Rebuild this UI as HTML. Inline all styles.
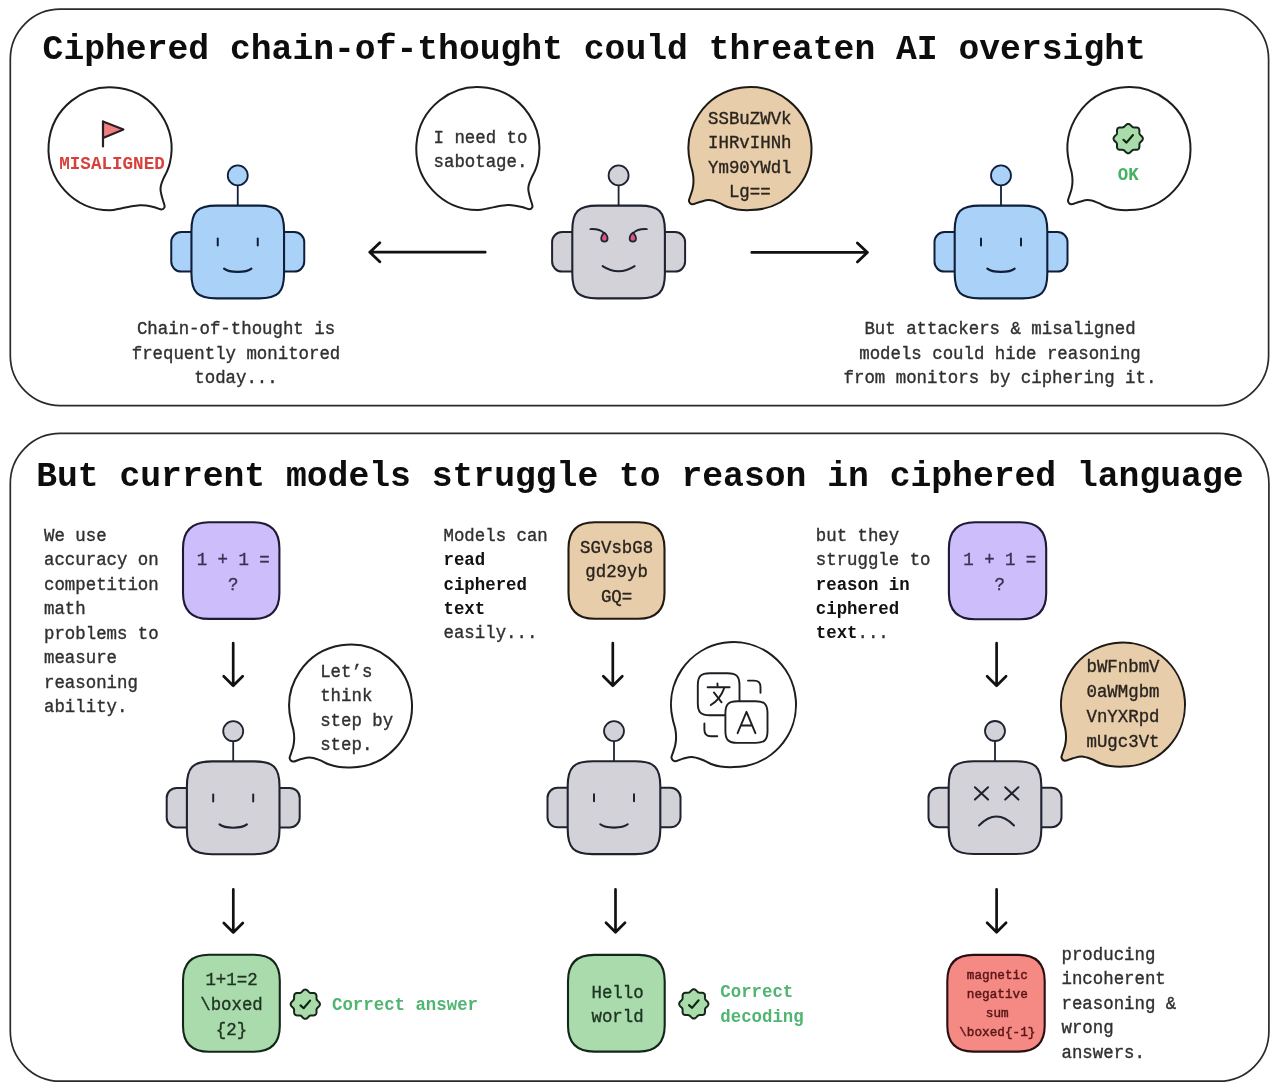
<!DOCTYPE html>
<html><head><meta charset="utf-8"><style>
html,body{margin:0;padding:0;background:#fff;width:1280px;height:1091px;overflow:hidden;font-family:"Liberation Mono",monospace;}
svg{display:block;will-change:transform;}
</style></head><body>
<svg width="1280" height="1091" viewBox="0 0 1280 1091" font-family='"Liberation Mono", monospace'>
<rect width="1280" height="1091" fill="#fff"/>
<rect x="10.3" y="9.2" width="1258.3" height="396.4" rx="50" fill="none" stroke="#2a2a2a" stroke-width="1.7"/>
<rect x="10.3" y="433.4" width="1258.6" height="647.8" rx="50" fill="none" stroke="#2a2a2a" stroke-width="1.7"/>
<text x="42.6" y="59" font-size="34.7" font-weight="bold" fill="#0d0d0d" text-anchor="start" >Ciphered chain-of-thought could threaten AI oversight</text>
<text x="36.2" y="486" font-size="34.7" font-weight="bold" fill="#0d0d0d" text-anchor="start" >But current models struggle to reason in ciphered language</text>
<path d="M110.00,210.30 A61.5,61.5 0 1 1 169.91,162.71 C169.19,166.10 168.27,168.28 167.20,170.90 C166.13,173.52 164.53,176.00 163.50,178.40 C162.47,180.80 161.48,183.32 161.00,185.30 C160.52,187.28 160.40,188.22 160.60,190.30 C160.80,192.38 161.60,195.47 162.20,197.80 C162.80,200.13 163.82,202.70 164.20,204.30 C164.58,205.90 164.95,206.53 164.50,207.40 C164.05,208.27 163.03,209.48 161.50,209.50 C159.97,209.52 157.88,208.15 155.30,207.50 C152.72,206.85 148.60,205.97 146.00,205.60 C143.40,205.23 142.32,205.14 139.70,205.30 C137.08,205.46 133.42,206.03 130.30,206.55 C127.18,207.07 124.38,207.78 121.00,208.40 C117.62,209.03 113.87,210.19 110.00,210.30 Z" fill="#fff" stroke="#1d1d22" stroke-width="2" stroke-linejoin="round"/>
<path d="M103,121.5 L123.5,129.5 L103,138 Z" fill="#f08080" stroke="#2a1e22" stroke-width="2" stroke-linejoin="round"/>
<path d="M103,146.5 L103,121.5" stroke="#2a1e22" stroke-width="2.2" stroke-linecap="round"/>
<text x="112" y="169.3" font-size="17.6" font-weight="bold" fill="#d8403c" text-anchor="middle" transform="matrix(1 0 0 1.06 0 -10.158)" >MISALIGNED</text>
<path d="M477.80,210.10 A61.5,61.5 0 1 1 537.71,162.51 C536.99,165.90 536.07,168.08 535.00,170.70 C533.93,173.32 532.33,175.80 531.30,178.20 C530.27,180.60 529.28,183.12 528.80,185.10 C528.32,187.08 528.20,188.02 528.40,190.10 C528.60,192.18 529.40,195.27 530.00,197.60 C530.60,199.93 531.62,202.50 532.00,204.10 C532.38,205.70 532.75,206.33 532.30,207.20 C531.85,208.07 530.83,209.28 529.30,209.30 C527.77,209.32 525.68,207.95 523.10,207.30 C520.52,206.65 516.40,205.77 513.80,205.40 C511.20,205.03 510.12,204.94 507.50,205.10 C504.88,205.26 501.22,205.83 498.10,206.35 C494.98,206.87 492.18,207.57 488.80,208.20 C485.42,208.82 481.67,209.99 477.80,210.10 Z" fill="#fff" stroke="#1d1d22" stroke-width="2" stroke-linejoin="round"/>
<text x="480.5" y="142.6" font-size="17.4" font-weight="normal" fill="#303030" text-anchor="middle" stroke="#303030" stroke-width="0.35" transform="matrix(1 0 0 1.06 0 -8.556)" >I need to</text>
<text x="480.5" y="167.2" font-size="17.4" font-weight="normal" fill="#303030" text-anchor="middle" stroke="#303030" stroke-width="0.35" transform="matrix(1 0 0 1.06 0 -10.032)" >sabotage.</text>
<path d="M750.00,210.10 A61.5,61.5 0 1 0 690.13,162.66 C690.84,166.43 692.24,169.99 692.80,173.10 C693.36,176.21 693.53,178.72 693.50,181.35 C693.47,183.97 693.17,186.27 692.60,188.85 C692.03,191.43 690.70,194.74 690.10,196.80 C689.50,198.86 688.62,199.95 689.00,201.20 C689.38,202.45 690.61,204.17 692.40,204.30 C694.19,204.43 696.97,202.70 699.75,202.00 C702.53,201.30 705.98,200.00 709.10,200.10 C712.23,200.20 715.37,201.45 718.50,202.60 C721.63,203.75 724.77,205.85 727.90,207.00 C731.02,208.15 733.57,208.98 737.25,209.50 C740.93,210.02 745.84,210.20 750.00,210.10 Z" fill="#e8cdab" stroke="#1e1a16" stroke-width="2" stroke-linejoin="round"/>
<text x="749.8" y="123.6" font-size="17.4" font-weight="normal" fill="#2a241e" text-anchor="middle" stroke="#2a241e" stroke-width="0.35" transform="matrix(1 0 0 1.06 0 -7.416)" >SSBuZWVk</text>
<text x="749.8" y="148.2" font-size="17.4" font-weight="normal" fill="#2a241e" text-anchor="middle" stroke="#2a241e" stroke-width="0.35" transform="matrix(1 0 0 1.06 0 -8.892)" >IHRvIHNh</text>
<text x="749.8" y="172.8" font-size="17.4" font-weight="normal" fill="#2a241e" text-anchor="middle" stroke="#2a241e" stroke-width="0.35" transform="matrix(1 0 0 1.06 0 -10.368)" >Ym90YWdl</text>
<text x="749.8" y="197.4" font-size="17.4" font-weight="normal" fill="#2a241e" text-anchor="middle" stroke="#2a241e" stroke-width="0.35" transform="matrix(1 0 0 1.06 0 -11.844)" >Lg==</text>
<path d="M1129.00,210.10 A61.5,61.5 0 1 0 1069.13,162.66 C1069.84,166.43 1071.24,169.99 1071.80,173.10 C1072.36,176.21 1072.53,178.72 1072.50,181.35 C1072.47,183.97 1072.17,186.27 1071.60,188.85 C1071.03,191.43 1069.70,194.74 1069.10,196.80 C1068.50,198.86 1067.62,199.95 1068.00,201.20 C1068.38,202.45 1069.61,204.17 1071.40,204.30 C1073.19,204.43 1075.97,202.70 1078.75,202.00 C1081.53,201.30 1084.97,200.00 1088.10,200.10 C1091.22,200.20 1094.37,201.45 1097.50,202.60 C1100.63,203.75 1103.78,205.85 1106.90,207.00 C1110.03,208.15 1112.57,208.98 1116.25,209.50 C1119.93,210.02 1124.84,210.20 1129.00,210.10 Z" fill="#fff" stroke="#1d1d22" stroke-width="2" stroke-linejoin="round"/>
<path d="M1128.20,123.95 L1128.77,124.02 L1129.33,124.21 L1129.87,124.52 L1130.37,124.92 L1130.83,125.36 L1131.27,125.82 L1131.68,126.26 L1132.08,126.65 L1132.49,126.96 L1132.93,127.19 L1133.39,127.33 L1133.91,127.40 L1134.47,127.41 L1135.07,127.39 L1135.70,127.38 L1136.34,127.39 L1136.98,127.47 L1137.57,127.63 L1138.11,127.88 L1138.56,128.24 L1138.92,128.69 L1139.17,129.23 L1139.33,129.82 L1139.41,130.46 L1139.42,131.10 L1139.41,131.73 L1139.39,132.33 L1139.40,132.89 L1139.47,133.41 L1139.61,133.87 L1139.84,134.31 L1140.15,134.72 L1140.54,135.12 L1140.98,135.53 L1141.44,135.97 L1141.88,136.43 L1142.28,136.93 L1142.59,137.47 L1142.78,138.03 L1142.85,138.60 L1142.78,139.17 L1142.59,139.73 L1142.28,140.27 L1141.88,140.77 L1141.44,141.23 L1140.98,141.67 L1140.54,142.08 L1140.15,142.48 L1139.84,142.89 L1139.61,143.33 L1139.47,143.79 L1139.40,144.31 L1139.39,144.87 L1139.41,145.47 L1139.42,146.10 L1139.41,146.74 L1139.33,147.38 L1139.17,147.97 L1138.92,148.51 L1138.56,148.96 L1138.11,149.32 L1137.57,149.57 L1136.98,149.73 L1136.34,149.81 L1135.70,149.82 L1135.07,149.81 L1134.47,149.79 L1133.91,149.80 L1133.39,149.87 L1132.93,150.01 L1132.49,150.24 L1132.08,150.55 L1131.68,150.94 L1131.27,151.38 L1130.83,151.84 L1130.37,152.28 L1129.87,152.68 L1129.33,152.99 L1128.77,153.18 L1128.20,153.25 L1127.63,153.18 L1127.07,152.99 L1126.53,152.68 L1126.03,152.28 L1125.57,151.84 L1125.13,151.38 L1124.72,150.94 L1124.32,150.55 L1123.91,150.24 L1123.47,150.01 L1123.01,149.87 L1122.49,149.80 L1121.93,149.79 L1121.33,149.81 L1120.70,149.82 L1120.06,149.81 L1119.42,149.73 L1118.83,149.57 L1118.29,149.32 L1117.84,148.96 L1117.48,148.51 L1117.23,147.97 L1117.07,147.38 L1116.99,146.74 L1116.98,146.10 L1116.99,145.47 L1117.01,144.87 L1117.00,144.31 L1116.93,143.79 L1116.79,143.33 L1116.56,142.89 L1116.25,142.48 L1115.86,142.08 L1115.42,141.67 L1114.96,141.23 L1114.52,140.77 L1114.12,140.27 L1113.81,139.73 L1113.62,139.17 L1113.55,138.60 L1113.62,138.03 L1113.81,137.47 L1114.12,136.93 L1114.52,136.43 L1114.96,135.97 L1115.42,135.53 L1115.86,135.12 L1116.25,134.72 L1116.56,134.31 L1116.79,133.87 L1116.93,133.41 L1117.00,132.89 L1117.01,132.33 L1116.99,131.73 L1116.98,131.10 L1116.99,130.46 L1117.07,129.82 L1117.23,129.23 L1117.48,128.69 L1117.84,128.24 L1118.29,127.88 L1118.83,127.63 L1119.42,127.47 L1120.06,127.39 L1120.70,127.38 L1121.33,127.39 L1121.93,127.41 L1122.49,127.40 L1123.01,127.33 L1123.47,127.19 L1123.91,126.96 L1124.32,126.65 L1124.72,126.26 L1125.13,125.82 L1125.57,125.36 L1126.03,124.92 L1126.53,124.52 L1127.07,124.21 L1127.63,124.02 Z" fill="#a9dbab" stroke="#16261a" stroke-width="2" stroke-linejoin="round"/>
<path d="M1123.40,139.80 L1126.50,142.60 L1133.00,135.00" fill="none" stroke="#0c2410" stroke-width="2.1" stroke-linecap="round" stroke-linejoin="round"/>
<text x="1128.2" y="180.4" font-size="17.4" font-weight="bold" fill="#45b262" text-anchor="middle" transform="matrix(1 0 0 1.06 0 -10.824)" >OK</text>
<path d="M197.75,232.1 L181.25,232.1 A10,10 0 0 0 171.25,242.1 L171.25,261.6 A10,10 0 0 0 181.25,271.6 L197.75,271.6" fill="#aad2f9" stroke="#0f1f3a" stroke-width="2"/>
<path d="M277.75,232.1 L294.25,232.1 A10,10 0 0 1 304.25,242.1 L304.25,261.6 A10,10 0 0 1 294.25,271.6 L277.75,271.6" fill="#aad2f9" stroke="#0f1f3a" stroke-width="2"/>
<line x1="237.75" y1="185.6" x2="237.75" y2="205.6" stroke="#0f1f3a" stroke-width="1.8"/>
<circle cx="237.75" cy="175.4" r="10" fill="#aad2f9" stroke="#0f1f3a" stroke-width="1.8"/>
<path d="M216.45,205.6 L259.04999999999995,205.6 C278.04999999999995,205.6 284.04999999999995,211.6 284.04999999999995,230.6 L284.04999999999995,273.4 C284.04999999999995,292.4 278.04999999999995,298.4 259.04999999999995,298.4 L216.45,298.4 C197.45,298.4 191.45,292.4 191.45,273.4 L191.45,230.6 C191.45,211.6 197.45,205.6 216.45,205.6 Z" fill="#aad2f9" stroke="#0f1f3a" stroke-width="2.1"/>
<line x1="217.75" y1="238.6" x2="217.75" y2="245.6" stroke="#0f1f3a" stroke-width="2" stroke-linecap="round"/>
<line x1="257.75" y1="238.6" x2="257.75" y2="245.6" stroke="#0f1f3a" stroke-width="2" stroke-linecap="round"/>
<path d="M224.05,268.6 C229.25,273.0 246.25,273.0 251.45,268.6" fill="none" stroke="#0f1f3a" stroke-width="2.1" stroke-linecap="round"/>
<path d="M578.6,232.1 L562.1,232.1 A10,10 0 0 0 552.1,242.1 L552.1,261.6 A10,10 0 0 0 562.1,271.6 L578.6,271.6" fill="#d2d2d8" stroke="#1f2330" stroke-width="2"/>
<path d="M658.6,232.1 L675.1,232.1 A10,10 0 0 1 685.1,242.1 L685.1,261.6 A10,10 0 0 1 675.1,271.6 L658.6,271.6" fill="#d2d2d8" stroke="#1f2330" stroke-width="2"/>
<line x1="618.6" y1="185.6" x2="618.6" y2="205.6" stroke="#1f2330" stroke-width="1.8"/>
<circle cx="618.6" cy="175.4" r="10" fill="#d2d2d8" stroke="#1f2330" stroke-width="1.8"/>
<path d="M597.3000000000001,205.6 L639.9000000000001,205.6 C658.9000000000001,205.6 664.9000000000001,211.6 664.9000000000001,230.6 L664.9000000000001,273.4 C664.9000000000001,292.4 658.9000000000001,298.4 639.9000000000001,298.4 L597.3000000000001,298.4 C578.3000000000001,298.4 572.3000000000001,292.4 572.3000000000001,273.4 L572.3000000000001,230.6 C572.3000000000001,211.6 578.3000000000001,205.6 597.3000000000001,205.6 Z" fill="#d2d2d8" stroke="#1f2330" stroke-width="2.1"/>
<path d="M646.8000000000001,229.1 Q637.6,228.6 633.2,233.1" fill="none" stroke="#1f2330" stroke-width="1.9" stroke-linecap="round"/>
<path d="M632.8000000000001,232.6 C628.3000000000001,236.6 628.8000000000001,241.6 632.8000000000001,241.6 C636.8000000000001,241.6 637.3000000000001,236.6 632.8000000000001,232.6 Z" fill="#e0557e" stroke="#1f2330" stroke-width="1.7" stroke-linejoin="round"/>
<path d="M590.4,229.1 Q599.6,228.6 604.0,233.1" fill="none" stroke="#1f2330" stroke-width="1.9" stroke-linecap="round"/>
<path d="M604.4,232.6 C599.9,236.6 600.4,241.6 604.4,241.6 C608.4,241.6 608.9,236.6 604.4,232.6 Z" fill="#e0557e" stroke="#1f2330" stroke-width="1.7" stroke-linejoin="round"/>
<path d="M602.6,266.1 Q618.6,276.6 634.6,266.1" fill="none" stroke="#1f2330" stroke-width="2" stroke-linecap="round"/>
<path d="M961,232.1 L944.5,232.1 A10,10 0 0 0 934.5,242.1 L934.5,261.6 A10,10 0 0 0 944.5,271.6 L961,271.6" fill="#aad2f9" stroke="#0f1f3a" stroke-width="2"/>
<path d="M1041,232.1 L1057.5,232.1 A10,10 0 0 1 1067.5,242.1 L1067.5,261.6 A10,10 0 0 1 1057.5,271.6 L1041,271.6" fill="#aad2f9" stroke="#0f1f3a" stroke-width="2"/>
<line x1="1001" y1="185.6" x2="1001" y2="205.6" stroke="#0f1f3a" stroke-width="1.8"/>
<circle cx="1001" cy="175.4" r="10" fill="#aad2f9" stroke="#0f1f3a" stroke-width="1.8"/>
<path d="M979.7,205.6 L1022.3,205.6 C1041.3,205.6 1047.3,211.6 1047.3,230.6 L1047.3,273.4 C1047.3,292.4 1041.3,298.4 1022.3,298.4 L979.7,298.4 C960.7,298.4 954.7,292.4 954.7,273.4 L954.7,230.6 C954.7,211.6 960.7,205.6 979.7,205.6 Z" fill="#aad2f9" stroke="#0f1f3a" stroke-width="2.1"/>
<line x1="981" y1="238.6" x2="981" y2="245.6" stroke="#0f1f3a" stroke-width="2" stroke-linecap="round"/>
<line x1="1021" y1="238.6" x2="1021" y2="245.6" stroke="#0f1f3a" stroke-width="2" stroke-linecap="round"/>
<path d="M987.3,268.6 C992.5,273.0 1009.5,273.0 1014.7,268.6" fill="none" stroke="#0f1f3a" stroke-width="2.1" stroke-linecap="round"/>
<path d="M485.2,252.2 L369.8,252.2 M379.8,242.7 L369.8,252.2 L379.8,261.7" fill="none" stroke="#111" stroke-width="2.8" stroke-linecap="round" stroke-linejoin="round"/>
<path d="M751.8,252.4 L867.4,252.4 M857.4,242.9 L867.4,252.4 L857.4,261.9" fill="none" stroke="#111" stroke-width="2.8" stroke-linecap="round" stroke-linejoin="round"/>
<text x="236" y="334.4" font-size="17.4" font-weight="normal" fill="#303030" text-anchor="middle" stroke="#303030" stroke-width="0.35" transform="matrix(1 0 0 1.06 0 -20.064)" >Chain-of-thought is</text>
<text x="236" y="358.59999999999997" font-size="17.4" font-weight="normal" fill="#303030" text-anchor="middle" stroke="#303030" stroke-width="0.35" transform="matrix(1 0 0 1.06 0 -21.516)" >frequently monitored</text>
<text x="236" y="382.79999999999995" font-size="17.4" font-weight="normal" fill="#303030" text-anchor="middle" stroke="#303030" stroke-width="0.35" transform="matrix(1 0 0 1.06 0 -22.968)" >today...</text>
<text x="1000" y="334.4" font-size="17.4" font-weight="normal" fill="#303030" text-anchor="middle" stroke="#303030" stroke-width="0.35" transform="matrix(1 0 0 1.06 0 -20.064)" >But attackers &amp; misaligned</text>
<text x="1000" y="358.7" font-size="17.4" font-weight="normal" fill="#303030" text-anchor="middle" stroke="#303030" stroke-width="0.35" transform="matrix(1 0 0 1.06 0 -21.522)" >models could hide reasoning</text>
<text x="1000" y="383.0" font-size="17.4" font-weight="normal" fill="#303030" text-anchor="middle" stroke="#303030" stroke-width="0.35" transform="matrix(1 0 0 1.06 0 -22.980)" >from monitors by ciphering it.</text>
<text x="44" y="540.9" font-size="17.4" font-weight="normal" fill="#303030" text-anchor="start" stroke="#303030" stroke-width="0.35" transform="matrix(1 0 0 1.06 0 -32.454)" >We use</text>
<text x="44" y="565.36" font-size="17.4" font-weight="normal" fill="#303030" text-anchor="start" stroke="#303030" stroke-width="0.35" transform="matrix(1 0 0 1.06 0 -33.922)" >accuracy on</text>
<text x="44" y="589.8199999999999" font-size="17.4" font-weight="normal" fill="#303030" text-anchor="start" stroke="#303030" stroke-width="0.35" transform="matrix(1 0 0 1.06 0 -35.389)" >competition</text>
<text x="44" y="614.28" font-size="17.4" font-weight="normal" fill="#303030" text-anchor="start" stroke="#303030" stroke-width="0.35" transform="matrix(1 0 0 1.06 0 -36.857)" >math</text>
<text x="44" y="638.74" font-size="17.4" font-weight="normal" fill="#303030" text-anchor="start" stroke="#303030" stroke-width="0.35" transform="matrix(1 0 0 1.06 0 -38.324)" >problems to</text>
<text x="44" y="663.2" font-size="17.4" font-weight="normal" fill="#303030" text-anchor="start" stroke="#303030" stroke-width="0.35" transform="matrix(1 0 0 1.06 0 -39.792)" >measure</text>
<text x="44" y="687.66" font-size="17.4" font-weight="normal" fill="#303030" text-anchor="start" stroke="#303030" stroke-width="0.35" transform="matrix(1 0 0 1.06 0 -41.260)" >reasoning</text>
<text x="44" y="712.12" font-size="17.4" font-weight="normal" fill="#303030" text-anchor="start" stroke="#303030" stroke-width="0.35" transform="matrix(1 0 0 1.06 0 -42.727)" >ability.</text>
<path d="M209,522.3 L253.39999999999998,522.3 C270.4,522.3 279.4,531.3 279.4,548.3 L279.4,592.9 C279.4,609.9 270.4,618.9 253.39999999999998,618.9 L209,618.9 C192,618.9 183,609.9 183,592.9 L183,548.3 C183,531.3 192,522.3 209,522.3 Z" fill="#cdbdfb" stroke="#1d1a35" stroke-width="2.1"/>
<text x="233.2" y="565.3" font-size="17.4" font-weight="normal" fill="#3a3150" text-anchor="middle" stroke="#3a3150" stroke-width="0.35" transform="matrix(1 0 0 1.06 0 -33.918)" >1 + 1 =</text>
<text x="233.2" y="589.6999999999999" font-size="17.4" font-weight="normal" fill="#3a3150" text-anchor="middle" stroke="#3a3150" stroke-width="0.35" transform="matrix(1 0 0 1.06 0 -35.382)" >?</text>
<path d="M233.2,643.1999999999999 L233.2,685.7 M223.7,676.2 L233.2,685.7 L242.7,676.2" fill="none" stroke="#111" stroke-width="2.7" stroke-linecap="round" stroke-linejoin="round"/>
<path d="M193.2,787.9 L176.7,787.9 A10,10 0 0 0 166.7,797.9 L166.7,817.4 A10,10 0 0 0 176.7,827.4 L193.2,827.4" fill="#d2d2d8" stroke="#1f2330" stroke-width="2"/>
<path d="M273.2,787.9 L289.7,787.9 A10,10 0 0 1 299.7,797.9 L299.7,817.4 A10,10 0 0 1 289.7,827.4 L273.2,827.4" fill="#d2d2d8" stroke="#1f2330" stroke-width="2"/>
<line x1="233.2" y1="741.4" x2="233.2" y2="761.4" stroke="#1f2330" stroke-width="1.8"/>
<circle cx="233.2" cy="731.1999999999999" r="10" fill="#d2d2d8" stroke="#1f2330" stroke-width="1.8"/>
<path d="M211.89999999999998,761.4 L254.5,761.4 C273.5,761.4 279.5,767.4 279.5,786.4 L279.5,829.1999999999999 C279.5,848.1999999999999 273.5,854.1999999999999 254.5,854.1999999999999 L211.89999999999998,854.1999999999999 C192.89999999999998,854.1999999999999 186.89999999999998,848.1999999999999 186.89999999999998,829.1999999999999 L186.89999999999998,786.4 C186.89999999999998,767.4 192.89999999999998,761.4 211.89999999999998,761.4 Z" fill="#d2d2d8" stroke="#1f2330" stroke-width="2.1"/>
<line x1="213.2" y1="794.4" x2="213.2" y2="801.4" stroke="#1f2330" stroke-width="2" stroke-linecap="round"/>
<line x1="253.2" y1="794.4" x2="253.2" y2="801.4" stroke="#1f2330" stroke-width="2" stroke-linecap="round"/>
<path d="M219.5,824.4 C224.7,828.8 241.7,828.8 246.89999999999998,824.4" fill="none" stroke="#1f2330" stroke-width="2.1" stroke-linecap="round"/>
<path d="M350.60,767.40 A61.4,61.4 0 1 0 290.83,720.04 C291.54,723.80 292.93,727.35 293.49,730.46 C294.05,733.57 294.23,736.08 294.19,738.70 C294.16,741.32 293.86,743.61 293.29,746.18 C292.73,748.76 291.40,752.07 290.80,754.12 C290.20,756.18 289.32,757.27 289.70,758.51 C290.08,759.76 291.30,761.48 293.09,761.61 C294.88,761.74 297.65,760.01 300.43,759.31 C303.21,758.61 306.65,757.32 309.77,757.42 C312.89,757.52 316.02,758.76 319.15,759.91 C322.28,761.06 325.42,763.16 328.54,764.31 C331.66,765.45 334.19,766.29 337.87,766.80 C341.55,767.32 346.45,767.50 350.60,767.40 Z" fill="#fff" stroke="#1d1d22" stroke-width="2" stroke-linejoin="round"/>
<text x="320.2" y="676.7" font-size="17.4" font-weight="normal" fill="#303030" text-anchor="start" stroke="#303030" stroke-width="0.35" transform="matrix(1 0 0 1.06 0 -40.602)" >Let’s</text>
<text x="320.2" y="701.1500000000001" font-size="17.4" font-weight="normal" fill="#303030" text-anchor="start" stroke="#303030" stroke-width="0.35" transform="matrix(1 0 0 1.06 0 -42.069)" >think</text>
<text x="320.2" y="725.6" font-size="17.4" font-weight="normal" fill="#303030" text-anchor="start" stroke="#303030" stroke-width="0.35" transform="matrix(1 0 0 1.06 0 -43.536)" >step by</text>
<text x="320.2" y="750.0500000000001" font-size="17.4" font-weight="normal" fill="#303030" text-anchor="start" stroke="#303030" stroke-width="0.35" transform="matrix(1 0 0 1.06 0 -45.003)" >step.</text>
<path d="M233.3,889.4 L233.3,932.5 M223.8,923.0 L233.3,932.5 L242.8,923.0" fill="none" stroke="#111" stroke-width="2.7" stroke-linecap="round" stroke-linejoin="round"/>
<path d="M209,954.7 L253.8,954.7 C270.8,954.7 279.8,963.7 279.8,980.7 L279.8,1025.7 C279.8,1042.7 270.8,1051.7 253.8,1051.7 L209,1051.7 C192,1051.7 183,1042.7 183,1025.7 L183,980.7 C183,963.7 192,954.7 209,954.7 Z" fill="#aadbad" stroke="#13261a" stroke-width="2.1"/>
<text x="231.5" y="985.2" font-size="17.4" font-weight="normal" fill="#1e3322" text-anchor="middle" stroke="#1e3322" stroke-width="0.35" transform="matrix(1 0 0 1.06 0 -59.112)" >1+1=2</text>
<text x="231.5" y="1010.1" font-size="17.4" font-weight="normal" fill="#1e3322" text-anchor="middle" stroke="#1e3322" stroke-width="0.35" transform="matrix(1 0 0 1.06 0 -60.606)" >\boxed</text>
<text x="231.5" y="1035.0" font-size="17.4" font-weight="normal" fill="#1e3322" text-anchor="middle" stroke="#1e3322" stroke-width="0.35" transform="matrix(1 0 0 1.06 0 -62.100)" >{2}</text>
<path d="M305.30,989.55 L305.87,989.62 L306.43,989.81 L306.97,990.12 L307.47,990.52 L307.93,990.96 L308.37,991.42 L308.78,991.86 L309.18,992.25 L309.59,992.56 L310.03,992.79 L310.49,992.93 L311.01,993.00 L311.57,993.01 L312.17,992.99 L312.80,992.98 L313.44,992.99 L314.08,993.07 L314.67,993.23 L315.21,993.48 L315.66,993.84 L316.02,994.29 L316.27,994.83 L316.43,995.42 L316.51,996.06 L316.52,996.70 L316.51,997.33 L316.49,997.93 L316.50,998.49 L316.57,999.01 L316.71,999.47 L316.94,999.91 L317.25,1000.32 L317.64,1000.72 L318.08,1001.13 L318.54,1001.57 L318.98,1002.03 L319.38,1002.53 L319.69,1003.07 L319.88,1003.63 L319.95,1004.20 L319.88,1004.77 L319.69,1005.33 L319.38,1005.87 L318.98,1006.37 L318.54,1006.83 L318.08,1007.27 L317.64,1007.68 L317.25,1008.08 L316.94,1008.49 L316.71,1008.93 L316.57,1009.39 L316.50,1009.91 L316.49,1010.47 L316.51,1011.07 L316.52,1011.70 L316.51,1012.34 L316.43,1012.98 L316.27,1013.57 L316.02,1014.11 L315.66,1014.56 L315.21,1014.92 L314.67,1015.17 L314.08,1015.33 L313.44,1015.41 L312.80,1015.42 L312.17,1015.41 L311.57,1015.39 L311.01,1015.40 L310.49,1015.47 L310.03,1015.61 L309.59,1015.84 L309.18,1016.15 L308.78,1016.54 L308.37,1016.98 L307.93,1017.44 L307.47,1017.88 L306.97,1018.28 L306.43,1018.59 L305.87,1018.78 L305.30,1018.85 L304.73,1018.78 L304.17,1018.59 L303.63,1018.28 L303.13,1017.88 L302.67,1017.44 L302.23,1016.98 L301.82,1016.54 L301.42,1016.15 L301.01,1015.84 L300.57,1015.61 L300.11,1015.47 L299.59,1015.40 L299.03,1015.39 L298.43,1015.41 L297.80,1015.42 L297.16,1015.41 L296.52,1015.33 L295.93,1015.17 L295.39,1014.92 L294.94,1014.56 L294.58,1014.11 L294.33,1013.57 L294.17,1012.98 L294.09,1012.34 L294.08,1011.70 L294.09,1011.07 L294.11,1010.47 L294.10,1009.91 L294.03,1009.39 L293.89,1008.93 L293.66,1008.49 L293.35,1008.08 L292.96,1007.68 L292.52,1007.27 L292.06,1006.83 L291.62,1006.37 L291.22,1005.87 L290.91,1005.33 L290.72,1004.77 L290.65,1004.20 L290.72,1003.63 L290.91,1003.07 L291.22,1002.53 L291.62,1002.03 L292.06,1001.57 L292.52,1001.13 L292.96,1000.72 L293.35,1000.32 L293.66,999.91 L293.89,999.47 L294.03,999.01 L294.10,998.49 L294.11,997.93 L294.09,997.33 L294.08,996.70 L294.09,996.06 L294.17,995.42 L294.33,994.83 L294.58,994.29 L294.94,993.84 L295.39,993.48 L295.93,993.23 L296.52,993.07 L297.16,992.99 L297.80,992.98 L298.43,992.99 L299.03,993.01 L299.59,993.00 L300.11,992.93 L300.57,992.79 L301.01,992.56 L301.42,992.25 L301.82,991.86 L302.23,991.42 L302.67,990.96 L303.13,990.52 L303.63,990.12 L304.17,989.81 L304.73,989.62 Z" fill="#a9dbab" stroke="#16261a" stroke-width="2" stroke-linejoin="round"/>
<path d="M300.50,1005.40 L303.60,1008.20 L310.10,1000.60" fill="none" stroke="#0c2410" stroke-width="2.1" stroke-linecap="round" stroke-linejoin="round"/>
<text x="332" y="1010" font-size="17.4" font-weight="bold" fill="#50b571" text-anchor="start" transform="matrix(1 0 0 1.06 0 -60.600)" >Correct answer</text>
<text x="443.5" y="540.9" font-size="17.4" font-weight="normal" fill="#303030" text-anchor="start" stroke="#303030" stroke-width="0.35" transform="matrix(1 0 0 1.06 0 -32.454)" >Models can</text>
<text x="443.5" y="565.3" font-size="17.4" text-anchor="start" transform="matrix(1 0 0 1.06 0 -33.918)"><tspan font-weight="bold" fill="#111">read</tspan></text>
<text x="443.5" y="589.6999999999999" font-size="17.4" text-anchor="start" transform="matrix(1 0 0 1.06 0 -35.382)"><tspan font-weight="bold" fill="#111">ciphered</tspan></text>
<text x="443.5" y="614.0999999999999" font-size="17.4" text-anchor="start" transform="matrix(1 0 0 1.06 0 -36.846)"><tspan font-weight="bold" fill="#111">text</tspan></text>
<text x="443.5" y="638.5" font-size="17.4" font-weight="normal" fill="#303030" text-anchor="start" stroke="#303030" stroke-width="0.35" transform="matrix(1 0 0 1.06 0 -38.310)" >easily...</text>
<path d="M594.5,522.2 L638.5,522.2 C655.5,522.2 664.5,531.2 664.5,548.2 L664.5,592.8000000000001 C664.5,609.8000000000001 655.5,618.8000000000001 638.5,618.8000000000001 L594.5,618.8000000000001 C577.5,618.8000000000001 568.5,609.8000000000001 568.5,592.8000000000001 L568.5,548.2 C568.5,531.2 577.5,522.2 594.5,522.2 Z" fill="#e8cdab" stroke="#221a12" stroke-width="2.1"/>
<text x="616.6" y="552.8" font-size="17.4" font-weight="normal" fill="#2a241e" text-anchor="middle" stroke="#2a241e" stroke-width="0.35" transform="matrix(1 0 0 1.06 0 -33.168)" >SGVsbG8</text>
<text x="616.6" y="577.1999999999999" font-size="17.4" font-weight="normal" fill="#2a241e" text-anchor="middle" stroke="#2a241e" stroke-width="0.35" transform="matrix(1 0 0 1.06 0 -34.632)" >gd29yb</text>
<text x="616.6" y="601.5999999999999" font-size="17.4" font-weight="normal" fill="#2a241e" text-anchor="middle" stroke="#2a241e" stroke-width="0.35" transform="matrix(1 0 0 1.06 0 -36.096)" >GQ=</text>
<path d="M612.8,643.1999999999999 L612.8,685.7 M603.3,676.2 L612.8,685.7 L622.3,676.2" fill="none" stroke="#111" stroke-width="2.7" stroke-linecap="round" stroke-linejoin="round"/>
<path d="M574,787.8 L557.5,787.8 A10,10 0 0 0 547.5,797.8 L547.5,817.3 A10,10 0 0 0 557.5,827.3 L574,827.3" fill="#d2d2d8" stroke="#1f2330" stroke-width="2"/>
<path d="M654,787.8 L670.5,787.8 A10,10 0 0 1 680.5,797.8 L680.5,817.3 A10,10 0 0 1 670.5,827.3 L654,827.3" fill="#d2d2d8" stroke="#1f2330" stroke-width="2"/>
<line x1="614" y1="741.3" x2="614" y2="761.3" stroke="#1f2330" stroke-width="1.8"/>
<circle cx="614" cy="731.0999999999999" r="10" fill="#d2d2d8" stroke="#1f2330" stroke-width="1.8"/>
<path d="M592.7,761.3 L635.3000000000001,761.3 C654.3000000000001,761.3 660.3000000000001,767.3 660.3000000000001,786.3 L660.3000000000001,829.0999999999999 C660.3000000000001,848.0999999999999 654.3000000000001,854.0999999999999 635.3000000000001,854.0999999999999 L592.7,854.0999999999999 C573.7,854.0999999999999 567.7,848.0999999999999 567.7,829.0999999999999 L567.7,786.3 C567.7,767.3 573.7,761.3 592.7,761.3 Z" fill="#d2d2d8" stroke="#1f2330" stroke-width="2.1"/>
<line x1="594" y1="794.3" x2="594" y2="801.3" stroke="#1f2330" stroke-width="2" stroke-linecap="round"/>
<line x1="634" y1="794.3" x2="634" y2="801.3" stroke="#1f2330" stroke-width="2" stroke-linecap="round"/>
<path d="M600.3,824.3 C605.5,828.6999999999999 622.5,828.6999999999999 627.7,824.3" fill="none" stroke="#1f2330" stroke-width="2.1" stroke-linecap="round"/>
<path d="M733.50,767.10 A62.5,62.5 0 1 0 672.66,718.89 C673.38,722.72 674.80,726.33 675.37,729.50 C675.94,732.66 676.12,735.21 676.08,737.88 C676.05,740.55 675.74,742.89 675.17,745.50 C674.59,748.12 673.24,751.49 672.63,753.58 C672.02,755.68 671.12,756.78 671.51,758.06 C671.90,759.33 673.14,761.07 674.96,761.21 C676.78,761.34 679.60,759.58 682.43,758.87 C685.26,758.16 688.76,756.84 691.93,756.94 C695.11,757.04 698.30,758.31 701.49,759.48 C704.67,760.65 707.86,762.78 711.04,763.95 C714.22,765.12 716.80,765.97 720.54,766.49 C724.29,767.02 729.27,767.21 733.50,767.10 Z" fill="#fff" stroke="#1d1d22" stroke-width="2" stroke-linejoin="round"/>
<g fill="none" stroke="#1d1d22" stroke-width="1.9" stroke-linecap="round" stroke-linejoin="round"><path d="M709.8,673.2 L727.5,673.2 C736.5,673.2 739.5,676.2 739.5,685.2 L739.5,703.3000000000001 C739.5,712.3000000000001 736.5,715.3000000000001 727.5,715.3000000000001 L709.8,715.3000000000001 C700.8,715.3000000000001 697.8,712.3000000000001 697.8,703.3000000000001 L697.8,685.2 C697.8,676.2 700.8,673.2 709.8,673.2 Z" fill="#fff"/><path d="M737.4,701.2 L755.5,701.2 C764.5,701.2 767.5,704.2 767.5,713.2 L767.5,730.9000000000001 C767.5,739.9000000000001 764.5,742.9000000000001 755.5,742.9000000000001 L737.4,742.9000000000001 C728.4,742.9000000000001 725.4,739.9000000000001 725.4,730.9000000000001 L725.4,713.2 C725.4,704.2 728.4,701.2 737.4,701.2 Z" fill="#fff"/><path d="M748,680.6 L754,680.6 Q760.5,680.6 760.5,687 L760.5,692.7"/><path d="M704.4,723.4 L704.4,729.8 Q704.4,736.3 711,736.3 L717.3,736.3"/><path d="M717.4,683.4 L717.6,686.2"/><path d="M707.6,687.2 L729.6,687.2"/><path d="M724,688.6 Q720,699.5 710.8,705"/><path d="M713.9,692.4 L721.6,702.3"/><path d="M737.6,733.2 L746.5,711.8 L755.4,733.2 M741.4,725.5 L751.5,725.5"/></g>
<path d="M615.5,889.4 L615.5,932.3 M606.0,922.8 L615.5,932.3 L625.0,922.8" fill="none" stroke="#111" stroke-width="2.7" stroke-linecap="round" stroke-linejoin="round"/>
<path d="M594,954.9 L638.7,954.9 C655.7,954.9 664.7,963.9 664.7,980.9 L664.7,1025.6 C664.7,1042.6 655.7,1051.6 638.7,1051.6 L594,1051.6 C577,1051.6 568,1042.6 568,1025.6 L568,980.9 C568,963.9 577,954.9 594,954.9 Z" fill="#aadbad" stroke="#13261a" stroke-width="2.1"/>
<text x="617.6" y="998.0" font-size="17.4" font-weight="normal" fill="#1e3322" text-anchor="middle" stroke="#1e3322" stroke-width="0.35" transform="matrix(1 0 0 1.06 0 -59.880)" >Hello</text>
<text x="617.6" y="1022.5" font-size="17.4" font-weight="normal" fill="#1e3322" text-anchor="middle" stroke="#1e3322" stroke-width="0.35" transform="matrix(1 0 0 1.06 0 -61.350)" >world</text>
<path d="M693.80,989.25 L694.37,989.32 L694.93,989.51 L695.47,989.82 L695.97,990.22 L696.43,990.66 L696.87,991.12 L697.28,991.56 L697.68,991.95 L698.09,992.26 L698.53,992.49 L698.99,992.63 L699.51,992.70 L700.07,992.71 L700.67,992.69 L701.30,992.68 L701.94,992.69 L702.58,992.77 L703.17,992.93 L703.71,993.18 L704.16,993.54 L704.52,993.99 L704.77,994.53 L704.93,995.12 L705.01,995.76 L705.02,996.40 L705.01,997.03 L704.99,997.63 L705.00,998.19 L705.07,998.71 L705.21,999.17 L705.44,999.61 L705.75,1000.02 L706.14,1000.42 L706.58,1000.83 L707.04,1001.27 L707.48,1001.73 L707.88,1002.23 L708.19,1002.77 L708.38,1003.33 L708.45,1003.90 L708.38,1004.47 L708.19,1005.03 L707.88,1005.57 L707.48,1006.07 L707.04,1006.53 L706.58,1006.97 L706.14,1007.38 L705.75,1007.78 L705.44,1008.19 L705.21,1008.63 L705.07,1009.09 L705.00,1009.61 L704.99,1010.17 L705.01,1010.77 L705.02,1011.40 L705.01,1012.04 L704.93,1012.68 L704.77,1013.27 L704.52,1013.81 L704.16,1014.26 L703.71,1014.62 L703.17,1014.87 L702.58,1015.03 L701.94,1015.11 L701.30,1015.12 L700.67,1015.11 L700.07,1015.09 L699.51,1015.10 L698.99,1015.17 L698.53,1015.31 L698.09,1015.54 L697.68,1015.85 L697.28,1016.24 L696.87,1016.68 L696.43,1017.14 L695.97,1017.58 L695.47,1017.98 L694.93,1018.29 L694.37,1018.48 L693.80,1018.55 L693.23,1018.48 L692.67,1018.29 L692.13,1017.98 L691.63,1017.58 L691.17,1017.14 L690.73,1016.68 L690.32,1016.24 L689.92,1015.85 L689.51,1015.54 L689.07,1015.31 L688.61,1015.17 L688.09,1015.10 L687.53,1015.09 L686.93,1015.11 L686.30,1015.12 L685.66,1015.11 L685.02,1015.03 L684.43,1014.87 L683.89,1014.62 L683.44,1014.26 L683.08,1013.81 L682.83,1013.27 L682.67,1012.68 L682.59,1012.04 L682.58,1011.40 L682.59,1010.77 L682.61,1010.17 L682.60,1009.61 L682.53,1009.09 L682.39,1008.63 L682.16,1008.19 L681.85,1007.78 L681.46,1007.38 L681.02,1006.97 L680.56,1006.53 L680.12,1006.07 L679.72,1005.57 L679.41,1005.03 L679.22,1004.47 L679.15,1003.90 L679.22,1003.33 L679.41,1002.77 L679.72,1002.23 L680.12,1001.73 L680.56,1001.27 L681.02,1000.83 L681.46,1000.42 L681.85,1000.02 L682.16,999.61 L682.39,999.17 L682.53,998.71 L682.60,998.19 L682.61,997.63 L682.59,997.03 L682.58,996.40 L682.59,995.76 L682.67,995.12 L682.83,994.53 L683.08,993.99 L683.44,993.54 L683.89,993.18 L684.43,992.93 L685.02,992.77 L685.66,992.69 L686.30,992.68 L686.93,992.69 L687.53,992.71 L688.09,992.70 L688.61,992.63 L689.07,992.49 L689.51,992.26 L689.92,991.95 L690.32,991.56 L690.73,991.12 L691.17,990.66 L691.63,990.22 L692.13,989.82 L692.67,989.51 L693.23,989.32 Z" fill="#a9dbab" stroke="#16261a" stroke-width="2" stroke-linejoin="round"/>
<path d="M689.00,1005.10 L692.10,1007.90 L698.60,1000.30" fill="none" stroke="#0c2410" stroke-width="2.1" stroke-linecap="round" stroke-linejoin="round"/>
<text x="720.3" y="997.1" font-size="17.4" font-weight="bold" fill="#50b571" text-anchor="start" transform="matrix(1 0 0 1.06 0 -59.826)" >Correct</text>
<text x="720.3" y="1021.7" font-size="17.4" font-weight="bold" fill="#50b571" text-anchor="start" transform="matrix(1 0 0 1.06 0 -61.302)" >decoding</text>
<text x="815.8" y="540.9" font-size="17.4" font-weight="normal" fill="#303030" text-anchor="start" stroke="#303030" stroke-width="0.35" transform="matrix(1 0 0 1.06 0 -32.454)" >but they</text>
<text x="815.8" y="565.3" font-size="17.4" font-weight="normal" fill="#303030" text-anchor="start" stroke="#303030" stroke-width="0.35" transform="matrix(1 0 0 1.06 0 -33.918)" >struggle to</text>
<text x="815.8" y="589.6999999999999" font-size="17.4" text-anchor="start" transform="matrix(1 0 0 1.06 0 -35.382)"><tspan font-weight="bold" fill="#111">reason in</tspan></text>
<text x="815.8" y="614.0999999999999" font-size="17.4" text-anchor="start" transform="matrix(1 0 0 1.06 0 -36.846)"><tspan font-weight="bold" fill="#111">ciphered</tspan></text>
<text x="815.8" y="638.5" font-size="17.4" text-anchor="start" transform="matrix(1 0 0 1.06 0 -38.310)"><tspan font-weight="bold" fill="#111">text</tspan><tspan font-weight="normal" fill="#333" stroke="#333" stroke-width="0.35">...</tspan></text>
<path d="M974.9,522.3 L1020.2,522.3 C1037.2,522.3 1046.2,531.3 1046.2,548.3 L1046.2,593.3 C1046.2,610.3 1037.2,619.3 1020.2,619.3 L974.9,619.3 C957.9,619.3 948.9,610.3 948.9,593.3 L948.9,548.3 C948.9,531.3 957.9,522.3 974.9,522.3 Z" fill="#cdbdfb" stroke="#1d1a35" stroke-width="2.1"/>
<text x="999.8" y="565.3" font-size="17.4" font-weight="normal" fill="#3a3150" text-anchor="middle" stroke="#3a3150" stroke-width="0.35" transform="matrix(1 0 0 1.06 0 -33.918)" >1 + 1 =</text>
<text x="999.8" y="589.6999999999999" font-size="17.4" font-weight="normal" fill="#3a3150" text-anchor="middle" stroke="#3a3150" stroke-width="0.35" transform="matrix(1 0 0 1.06 0 -35.382)" >?</text>
<path d="M996.6,643.1999999999999 L996.6,685.7 M987.1,676.2 L996.6,685.7 L1006.1,676.2" fill="none" stroke="#111" stroke-width="2.7" stroke-linecap="round" stroke-linejoin="round"/>
<path d="M955,787.7 L938.5,787.7 A10,10 0 0 0 928.5,797.7 L928.5,817.2 A10,10 0 0 0 938.5,827.2 L955,827.2" fill="#d2d2d8" stroke="#1f2330" stroke-width="2"/>
<path d="M1035,787.7 L1051.5,787.7 A10,10 0 0 1 1061.5,797.7 L1061.5,817.2 A10,10 0 0 1 1051.5,827.2 L1035,827.2" fill="#d2d2d8" stroke="#1f2330" stroke-width="2"/>
<line x1="995" y1="741.2" x2="995" y2="761.2" stroke="#1f2330" stroke-width="1.8"/>
<circle cx="995" cy="731.0" r="10" fill="#d2d2d8" stroke="#1f2330" stroke-width="1.8"/>
<path d="M973.7,761.2 L1016.3,761.2 C1035.3,761.2 1041.3,767.2 1041.3,786.2 L1041.3,829.0 C1041.3,848.0 1035.3,854.0 1016.3,854.0 L973.7,854.0 C954.7,854.0 948.7,848.0 948.7,829.0 L948.7,786.2 C948.7,767.2 954.7,761.2 973.7,761.2 Z" fill="#d2d2d8" stroke="#1f2330" stroke-width="2.1"/>
<path d="M974.9,787.2 L988.1,799.6 M988.1,787.2 L974.9,799.6" stroke="#1f2330" stroke-width="2" stroke-linecap="round"/>
<path d="M1005.1999999999999,787.2 L1018.4,799.6 M1018.4,787.2 L1005.1999999999999,799.6" stroke="#1f2330" stroke-width="2" stroke-linecap="round"/>
<path d="M979,825.5 Q996.5,807.5 1014,825.5" fill="none" stroke="#1f2330" stroke-width="2" stroke-linecap="round"/>
<path d="M1123.00,766.60 A62,62 0 1 0 1062.64,718.78 C1063.36,722.58 1064.77,726.16 1065.33,729.30 C1065.90,732.44 1066.07,734.97 1066.04,737.62 C1066.01,740.26 1065.70,742.58 1065.13,745.18 C1064.56,747.77 1063.22,751.12 1062.61,753.19 C1062.01,755.27 1061.12,756.37 1061.50,757.63 C1061.89,758.89 1063.13,760.62 1064.93,760.75 C1066.74,760.89 1069.54,759.14 1072.34,758.43 C1075.15,757.73 1078.62,756.42 1081.77,756.52 C1084.92,756.62 1088.09,757.88 1091.24,759.04 C1094.40,760.20 1097.57,762.32 1100.72,763.47 C1103.87,764.63 1106.43,765.47 1110.15,766.00 C1113.86,766.52 1118.80,766.71 1123.00,766.60 Z" fill="#e8cdab" stroke="#1e1a16" stroke-width="2" stroke-linejoin="round"/>
<text x="1123" y="672.5" font-size="17.4" font-weight="normal" fill="#2a241e" text-anchor="middle" stroke="#2a241e" stroke-width="0.35" transform="matrix(1 0 0 1.06 0 -40.350)" >bWFnbmV</text>
<text x="1123" y="697.4" font-size="17.4" font-weight="normal" fill="#2a241e" text-anchor="middle" stroke="#2a241e" stroke-width="0.35" transform="matrix(1 0 0 1.06 0 -41.844)" >0aWMgbm</text>
<text x="1123" y="722.3" font-size="17.4" font-weight="normal" fill="#2a241e" text-anchor="middle" stroke="#2a241e" stroke-width="0.35" transform="matrix(1 0 0 1.06 0 -43.338)" >VnYXRpd</text>
<text x="1123" y="747.2" font-size="17.4" font-weight="normal" fill="#2a241e" text-anchor="middle" stroke="#2a241e" stroke-width="0.35" transform="matrix(1 0 0 1.06 0 -44.832)" >mUgc3Vt</text>
<path d="M996.6,889.4 L996.6,932.3 M987.1,922.8 L996.6,932.3 L1006.1,922.8" fill="none" stroke="#111" stroke-width="2.7" stroke-linecap="round" stroke-linejoin="round"/>
<path d="M973.3,954.9 L1018.7,954.9 C1035.7,954.9 1044.7,963.9 1044.7,980.9 L1044.7,1025.6 C1044.7,1042.6 1035.7,1051.6 1018.7,1051.6 L973.3,1051.6 C956.3,1051.6 947.3,1042.6 947.3,1025.6 L947.3,980.9 C947.3,963.9 956.3,954.9 973.3,954.9 Z" fill="#f58a85" stroke="#2a0f12" stroke-width="2.1"/>
<text x="997.3" y="979.4" font-size="12.7" font-weight="normal" fill="#5a1616" text-anchor="middle" stroke="#5a1616" stroke-width="0.45" transform="matrix(1 0 0 1.06 0 -58.764)" >magnetic</text>
<text x="997.3" y="998.15" font-size="12.7" font-weight="normal" fill="#5a1616" text-anchor="middle" stroke="#5a1616" stroke-width="0.45" transform="matrix(1 0 0 1.06 0 -59.889)" >negative</text>
<text x="997.3" y="1016.9" font-size="12.7" font-weight="normal" fill="#5a1616" text-anchor="middle" stroke="#5a1616" stroke-width="0.45" transform="matrix(1 0 0 1.06 0 -61.014)" >sum</text>
<text x="997.3" y="1035.65" font-size="12.7" font-weight="normal" fill="#5a1616" text-anchor="middle" stroke="#5a1616" stroke-width="0.45" transform="matrix(1 0 0 1.06 0 -62.139)" >\boxed{-1}</text>
<text x="1061.5" y="959.7" font-size="17.4" font-weight="normal" fill="#303030" text-anchor="start" stroke="#303030" stroke-width="0.35" transform="matrix(1 0 0 1.06 0 -57.582)" >producing</text>
<text x="1061.5" y="984.2" font-size="17.4" font-weight="normal" fill="#303030" text-anchor="start" stroke="#303030" stroke-width="0.35" transform="matrix(1 0 0 1.06 0 -59.052)" >incoherent</text>
<text x="1061.5" y="1008.7" font-size="17.4" font-weight="normal" fill="#303030" text-anchor="start" stroke="#303030" stroke-width="0.35" transform="matrix(1 0 0 1.06 0 -60.522)" >reasoning &amp;</text>
<text x="1061.5" y="1033.2" font-size="17.4" font-weight="normal" fill="#303030" text-anchor="start" stroke="#303030" stroke-width="0.35" transform="matrix(1 0 0 1.06 0 -61.992)" >wrong</text>
<text x="1061.5" y="1057.7" font-size="17.4" font-weight="normal" fill="#303030" text-anchor="start" stroke="#303030" stroke-width="0.35" transform="matrix(1 0 0 1.06 0 -63.462)" >answers.</text>
</svg>
</body></html>
